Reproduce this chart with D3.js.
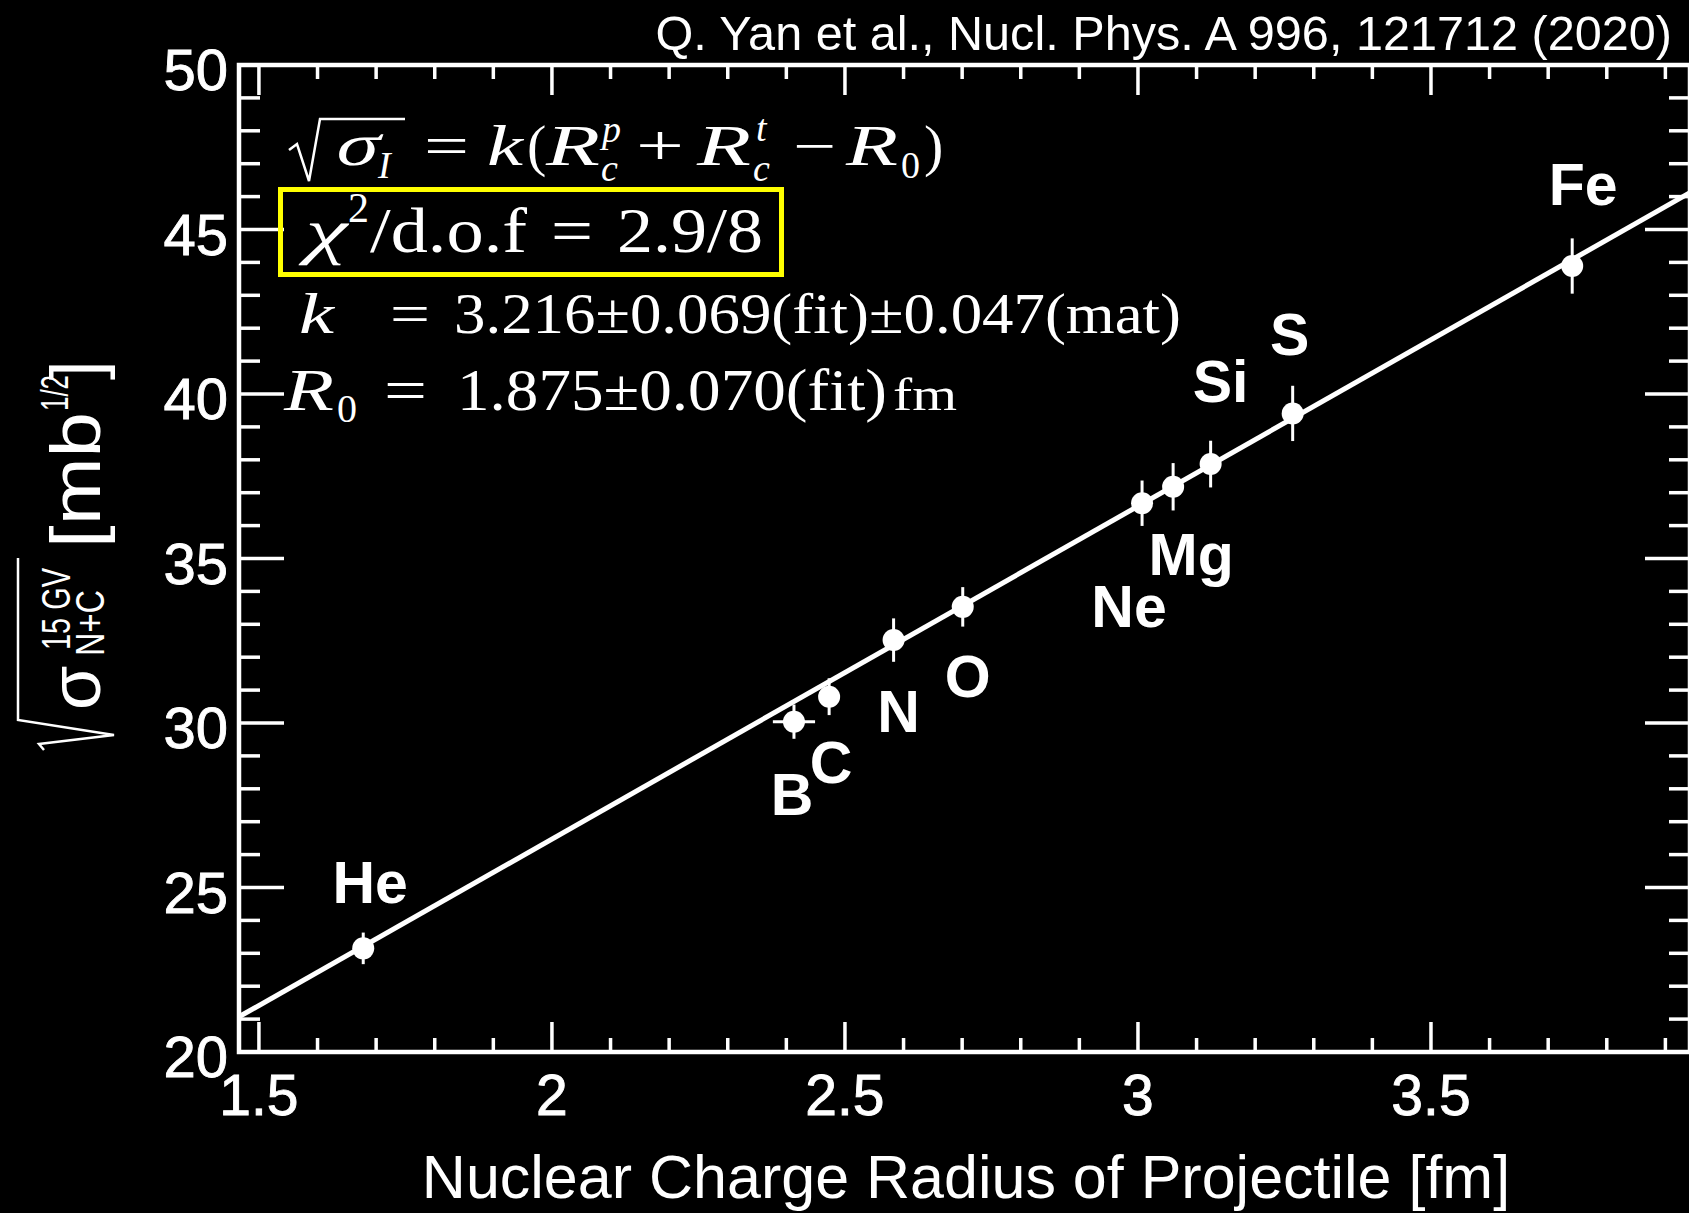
<!DOCTYPE html>
<html><head><meta charset="utf-8">
<script src="https://cdn.jsdelivr.net/npm/d3@7"></script>
<style>html,body{margin:0;background:#000;overflow:hidden} svg{display:block}</style>
</head><body><svg id="c" width="1689" height="1213"></svg>
<script>
// ---------------- data ----------------
const elements   = ["He","B","C","N","O","Ne","Mg","Si","S","Fe"];
const radius     = [1.678,2.413,2.473,2.583,2.701,3.007,3.060,3.124,3.264,3.741];
const sqrtSigma  = [23.15,30.04,30.80,32.52,33.53,36.68,37.18,37.87,39.41,43.89];
const sigmaErr   = [0.48,0.52,0.56,0.66,0.60,0.69,0.72,0.71,0.84,0.84];
const radiusErr  = [0,0.036,0,0,0,0,0,0,0,0];
const fitX       = [1.466,3.942];
const fitY       = [21.07,46.12];
const xTickLabels = [1.5,2,2.5,3,3.5];
const yTickLabels = [20,25,30,35,40,45,50];
const citation = "Q. Yan et al., Nucl. Phys. A 996, 121712 (2020)";
const xTitle = "Nuclear Charge Radius of Projectile [fm]";

// ---------------- layout ----------------
const W = 1689, H = 1213;
const frame = {left:239, right:1690, top:65, bottom:1052};
const labelOffsets = [[7,-45],[-2,93],[2,86],[5,92],[5,90],[-13,124],[18,88],[10,-62],[-3,-58],[11,-61]];

const svg = d3.select("#c");
svg.append("rect").attr("width",W).attr("height",H).attr("fill","#000");

const x = d3.scaleLinear().domain([1.466,3.942]).range([frame.left,frame.right]);
const y = d3.scaleLinear().domain([20,50]).range([frame.bottom,frame.top]);

const white = "#fff";
const sans = "'Liberation Sans', Arial, Helvetica, sans-serif";
const serif = "'Liberation Serif', 'Times New Roman', serif";

// ticks
const minorX = d3.range(15,40).map(d=>d/10);
const minorY = d3.range(20,51);
const g = svg.append("g").attr("stroke",white).attr("stroke-width",3.5).attr("fill","none");
minorX.forEach(v=>{
  const major = Math.abs(v*2-Math.round(v*2))<1e-6;
  const L = major?30:14;
  g.append("line").attr("x1",x(v)).attr("x2",x(v)).attr("y1",frame.bottom).attr("y2",frame.bottom-L);
  g.append("line").attr("x1",x(v)).attr("x2",x(v)).attr("y1",frame.top).attr("y2",frame.top+L);
});
minorY.forEach(v=>{
  const major = v%5===0;
  const L = major?45:21;
  g.append("line").attr("x1",frame.left).attr("x2",frame.left+L).attr("y1",y(v)).attr("y2",y(v));
  g.append("line").attr("x1",frame.right).attr("x2",frame.right-L).attr("y1",y(v)).attr("y2",y(v));
});
// frame
svg.append("rect").attr("x",frame.left).attr("y",frame.top)
  .attr("width",frame.right-frame.left).attr("height",frame.bottom-frame.top)
  .attr("fill","none").attr("stroke",white).attr("stroke-width",4.5);

// tick labels
svg.append("g").selectAll("text").data(xTickLabels).join("text")
  .attr("x",d=>x(d)).attr("y",1115).attr("text-anchor","middle")
  .attr("font-family",sans).attr("font-size",57).attr("fill",white)
  .attr("stroke",white).attr("stroke-width",0.9).text(d=>d);
svg.append("g").selectAll("text").data(yTickLabels).join("text")
  .attr("x",228).attr("y",d=>y(d)+25).attr("text-anchor","end")
  .attr("font-family",sans).attr("font-size",58).attr("fill",white)
  .attr("stroke",white).attr("stroke-width",0.9).text(d=>d);

// x title
svg.append("text").attr("x",966).attr("y",1198).attr("text-anchor","middle")
  .attr("font-family",sans).attr("font-size",61).attr("fill",white).text(xTitle);

// citation
svg.append("text").attr("x",1672).attr("y",50).attr("text-anchor","end")
  .attr("font-family",sans).attr("font-size",48.6).attr("fill",white).text(citation);

// fit line
const line = d3.line().x(d=>x(d[0])).y(d=>y(d[1]));
svg.append("path").datum(d3.zip(fitX,fitY)).attr("d",line)
  .attr("stroke",white).attr("stroke-width",5).attr("fill","none");

// data points
const pts = elements.map((e,i)=>({e,x:radius[i],y:sqrtSigma[i],ey:sigmaErr[i],ex:radiusErr[i],off:labelOffsets[i]}));
const pg = svg.append("g");
pg.selectAll("line.ey").data(pts).join("line").attr("class","ey")
  .attr("x1",d=>x(d.x)).attr("x2",d=>x(d.x)).attr("y1",d=>y(d.y-d.ey)).attr("y2",d=>y(d.y+d.ey))
  .attr("stroke",white).attr("stroke-width",3);
pg.selectAll("line.ex").data(pts.filter(d=>d.ex>0)).join("line").attr("class","ex")
  .attr("x1",d=>x(d.x-d.ex)).attr("x2",d=>x(d.x+d.ex)).attr("y1",d=>y(d.y)).attr("y2",d=>y(d.y))
  .attr("stroke",white).attr("stroke-width",3);
pg.selectAll("circle").data(pts).join("circle")
  .attr("cx",d=>x(d.x)).attr("cy",d=>y(d.y)).attr("r",11).attr("fill",white);
pg.selectAll("text").data(pts).join("text")
  .attr("x",d=>x(d.x)+d.off[0]).attr("y",d=>y(d.y)+d.off[1]).attr("text-anchor","middle")
  .attr("font-family",sans).attr("font-weight","bold").attr("font-size",59).attr("fill",white).text(d=>d.e);

// ---------------- formula ----------------
const fg = svg.append("g").attr("fill",white).attr("font-family",serif);
function tex(x0,x1,base,str,size,italic){
  const t = fg.append("text").attr("x",x0).attr("y",base).attr("font-size",size)
    .attr("font-style",italic?"italic":"normal").text(str);
  if (x1) t.attr("textLength",x1-x0).attr("lengthAdjust","spacingAndGlyphs");
  return t;
}
function greek(x0,x1,base,str,size){
  fg.append("text").attr("transform",`translate(${x0},${base}) skewX(-14)`)
    .attr("font-size",size).attr("textLength",x1-x0).attr("lengthAdjust","spacingAndGlyphs").text(str);
}
// line 1
fg.append("path").attr("d","M289,150 L297,144 L309,181 L320,119 L405,119")
  .attr("fill","none").attr("stroke",white).attr("stroke-width",2.5);
greek(333,377,165,"σ",60);
tex(378,null,178,"I",38,true);
tex(424,469,165,"=",56,false);
tex(487,523,165,"k",56,true);
tex(527,null,165,"(",58,false);
tex(546,600,165,"R",56,true);
tex(602,null,142,"p",38,true);
tex(601,null,181,"c",38,true);
tex(636,684,165,"+",56,false);
tex(697,751,165,"R",56,true);
tex(756,null,141,"t",38,true);
tex(753,null,181,"c",38,true);
tex(793,836,165,"−",56,false);
tex(846,898,165,"R",56,true);
tex(901,null,178,"0",38,false);
tex(924,null,165,")",58,false);
// line 2 (boxed)
svg.append("rect").attr("x",280.5).attr("y",189.5).attr("width",501).attr("height",85)
  .attr("fill","none").attr("stroke","#ffff00").attr("stroke-width",5);
greek(302,344,252,"χ",62);
tex(348,null,222,"2",42,false);
tex(370,527,252,"/d.o.f",64,false);
tex(551,593,252,"=",64,false);
tex(617,763,252,"2.9/8",64,false);
// line 3
tex(299,334,333,"k",58,true);
tex(390,430,333,"=",58,false);
tex(454,1181,333,"3.216±0.069(fit)±0.047(mat)",58,false);
// line 4
tex(284,334,410,"R",60,true);
tex(337,null,422,"0",40,false);
tex(384,427,410,"=",60,false);
tex(457,887,410,"1.875±0.070(fit)",60,false);
tex(893,957,410,"fm",46,false);

// ---------------- y title ----------------
const yt = svg.append("g").attr("transform","translate(100,754) rotate(-90)").attr("fill",white).attr("font-family",sans);
yt.append("path").attr("d","M4,-56 L10,-61 L19,14 L34,-82 L196,-82")
  .attr("fill","none").attr("stroke",white).attr("stroke-width",2.5);
yt.append("text").attr("x",44).attr("y",0).attr("font-size",72).text("σ");
yt.append("text").attr("x",104).attr("y",-30).attr("font-size",40)
  .attr("textLength",82).attr("lengthAdjust","spacingAndGlyphs").text("15 GV");
yt.append("text").attr("x",98).attr("y",4).attr("font-size",40)
  .attr("textLength",66).attr("lengthAdjust","spacingAndGlyphs").text("N+C");
yt.append("text").attr("x",206).attr("y",0).attr("font-size",70)
  .attr("textLength",136).attr("lengthAdjust","spacingAndGlyphs").text("[mb");
yt.append("text").attr("x",343).attr("y",-32).attr("font-size",38)
  .attr("textLength",36).attr("lengthAdjust","spacingAndGlyphs").text("1/2");
yt.append("text").attr("x",374).attr("y",0).attr("font-size",70).text("]");
</script>
</body></html>
